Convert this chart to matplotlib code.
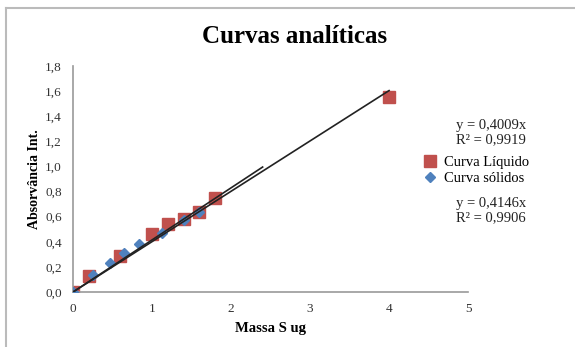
import numpy as np
import matplotlib
matplotlib.use("Agg")
import matplotlib.pyplot as plt
from matplotlib.ticker import FuncFormatter
from matplotlib.lines import Line2D

# Dados
liq_x = [0, 0.2, 0.6, 1.0, 1.2, 1.4, 1.6, 1.8, 4.0]
liq_y = [0, 0.13, 0.29, 0.46, 0.54, 0.58, 0.64, 0.75, 1.55]
sol_x = [0, 0.25, 0.47, 0.65, 0.84, 1.13, 1.4, 1.6]
sol_y = [0, 0.135, 0.23, 0.31, 0.38, 0.47, 0.57, 0.64]
slope_liq = 0.4009
slope_sol = 0.4146
trend_liq_x = [0, 4.0]
trend_sol_x = [0, 2.4]

plt.rcParams["font.family"] = ["Liberation Serif", "DejaVu Serif"]

fig = plt.figure(figsize=(5.75, 3.47), dpi=100)
ax = fig.add_axes([0.127, 0.1585, 0.687, 0.6515])

ax.plot(liq_x, liq_y, "s", color="#C0504D", markersize=8, label="Curva Líquido", zorder=2)
ax.plot(sol_x, sol_y, "D", color="#4F81BD", markersize=5.5, label="Curva sólidos", zorder=3)

tx = np.array(trend_liq_x)
ax.plot(tx, slope_liq * tx, color="#222222", lw=1.2, zorder=4)
tx = np.array(trend_sol_x)
ax.plot(tx, slope_sol * tx, color="#222222", lw=1.2, zorder=4)

ax.set_xlim(0, 5)
ax.set_ylim(0, 1.8)
ax.set_xticks(range(6))
ax.set_yticks(np.arange(0, 1.81, 0.2))
ax.yaxis.set_major_formatter(FuncFormatter(lambda v, p: f"{v:.1f}".replace(".", ",")))
ax.tick_params(length=0, labelsize=9.5, colors="#333333", pad=8)
for s in ["top", "right"]:
    ax.spines[s].set_visible(False)
for s in ["left", "bottom"]:
    ax.spines[s].set_color("#999999")
    ax.spines[s].set_linewidth(1.2)

ax.set_xlabel("Massa S ug", fontsize=10.5, fontweight="bold", labelpad=5)
ax.set_ylabel("Absorvância Int.", fontsize=10, fontweight="bold", labelpad=3)
fig.text(0.513, 0.895, "Curvas analíticas", ha="center", va="center", fontsize=18, fontweight="bold")

ax.legend(loc="upper left", bbox_to_anchor=(0.735, 0.55), bbox_transform=fig.transFigure,
          frameon=False, fontsize=10.5, handletextpad=0.5, labelspacing=0.2,
          handlelength=1.0, borderaxespad=0, borderpad=0)

fig.text(0.854, 0.618, "y = 0,4009x\nR² = 0,9919", ha="center", va="center", fontsize=10.5,
         linespacing=1.15, color="#222222")
fig.text(0.854, 0.393, "y = 0,4146x\nR² = 0,9906", ha="center", va="center", fontsize=10.5,
         linespacing=1.15, color="#222222")

# moldura do grafico
fig.add_artist(Line2D([0.0104, 0.0104], [0, 0.977], color="#bbbbbb", lw=1.5))
fig.add_artist(Line2D([0.0104, 1.0], [0.977, 0.977], color="#bbbbbb", lw=1.5))

fig.savefig("out.png", dpi=100)
